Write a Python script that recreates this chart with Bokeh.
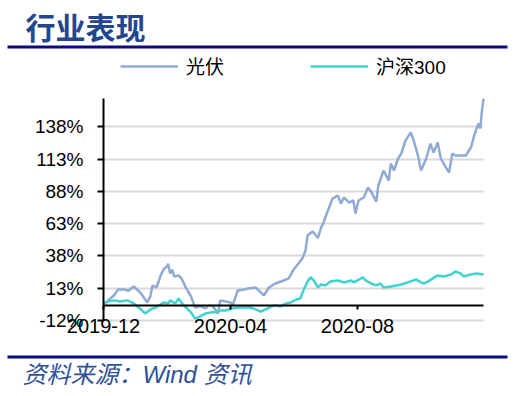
import pandas as pd
from bokeh.plotting import figure
from bokeh.models import (Range1d, FixedTicker, DatetimeTickFormatter, PrintfTickFormatter,
                          Legend, LegendItem, ColumnDataSource, Label, BoxAnnotation)
from bokeh.embed import file_html
from bokeh.resources import INLINE

title_text = "行业表现"
source_text = "资料来源：Wind 资讯"
series_names = ["光伏", "沪深300"]
base_date = "2019-12-01"

# day offsets from base_date and cumulative return (%)
pv_days = [0, 5, 10, 14, 20, 24, 29, 36, 42, 45, 47, 51, 55, 58, 61, 62, 64, 66, 68, 72,
           75, 79, 84, 88, 93, 98, 101, 105, 110, 112, 117, 122, 124, 129, 135, 139, 146, 149, 154, 159,
           165, 173, 178, 182, 187, 191, 194, 196, 201, 202, 206, 209, 211, 213, 220, 225, 228, 231, 236, 240, 242, 245,
           250, 254, 257, 262, 264, 269, 274, 276, 279, 283, 286, 290, 295, 298, 302, 305, 310, 314, 317, 321,
           324, 329, 332, 335, 338, 348, 351, 353, 356, 360, 362, 363, 365]
pv_values = [0.5, 4, 7.4, 12, 12, 11, 14.4, 9, 2, 6.7, 15, 13.6, 23, 28, 30, 32, 24.5, 27.5, 22, 23,
             20.6, 13.6, 6.7, -2, -1, -2.6, -0.3, -1, -6.5, 3.5, 2.8, 2, -0.3, 11.3, 12, 12.8, 13.6, 11.3, 7.4, 13.6,
             16.7, 19, 20.6, 26.8, 32, 36, 42, 54, 57, 56, 52, 60, 63, 67.8, 82.5, 84.8, 78.6, 83.3, 79.4, 81, 70.9, 81,
             83.3, 91, 88, 80, 92.6, 104.2, 96.4, 109.6, 104.2, 113.5, 117.3, 127.4, 133.6, 127.4, 115.8, 104.2, 113.5, 125, 118.1, 125.9,
             113.5, 106.5, 102.6, 117.3, 115.8, 115.8, 119.7, 122, 131, 140.6, 136.8, 147, 159.8]

hs_days = [0, 5, 10, 16, 23, 29, 36, 40, 45, 50, 55, 58, 62, 64, 69, 72, 77, 81, 84, 88,
           91, 98, 103, 108, 112, 117, 124, 132, 141, 146, 151, 156, 161, 165, 170, 175, 180, 185, 189, 192,
           196, 199, 202, 206, 209, 213, 218, 225, 231, 238, 240, 244, 249, 252, 257, 262, 266, 269, 276, 286,
           295, 300, 305, 308, 312, 316, 321, 327, 334, 338, 343, 346, 353, 358, 365]
hs_values = [1.2, 2.8, 3.6, 2.8, 3.6, 1.2, -3.4, -6.5, -3.4, -1.9, 0.5, 2, 1.2, 3.6, 1.2, 5.1, -0.3, -3.4, -5.7, -10.4,
             -9.6, -6.5, -5.7, -5.7, -4.2, -4.2, -2.6, -1.9, -1.9, -3.4, -5, -3.4, -1.1, -0.3, -1.1, 1.2, 2, 4.3, 5.1, 11.3,
             18.3, 21.4, 19, 13.6, 15.9, 15.2, 18.3, 19, 17.5, 19, 17.5, 19, 21.4, 19, 16.7, 15.2, 16.7, 13.6, 14.4, 15.9,
             18.3, 19.8, 17.5, 16.7, 18.3, 20.6, 22.9, 22.1, 23.7, 26, 24.5, 22.1, 23.7, 24.5, 23.7]

x_tick_labels = ["2019-12", "2020-04", "2020-08"]
y_ticks = [-12, 13, 38, 63, 88, 113, 138]
x_start, x_end = "2019-12-01", "2020-11-30"
y_start, y_end = -12, 160

base = pd.Timestamp(base_date)
pv_src = ColumnDataSource(dict(x=base + pd.to_timedelta(pv_days, unit="D"), y=pv_values))
hs_src = ColumnDataSource(dict(x=base + pd.to_timedelta(hs_days, unit="D"), y=hs_values))


def ms(s):
    return pd.Timestamp(s).value // 10**6


# ---- page layout (pixels)
W, H = 508, 396
PL, PR, PT, PB = 103, 483, 98, 320          # plotting area edges
LBL_FONT = "'Liberation Sans', 'Noto Sans CJK SC'"
RULE = "#0B0B82"

xs, xe = ms(x_start), ms(x_end)
kx = (xe - xs) / (PR - PL)
ky = (y_end - y_start) / (PB - PT)
x_range = Range1d(xs - PL * kx, xe + (W - PR) * kx)
y_range = Range1d(y_start - (H - PB) * ky, y_end + PT * ky)

p = figure(width=W, height=H, output_backend="svg", toolbar_location=None, title=None,
           x_axis_type="datetime", x_range=x_range, y_range=y_range,
           min_border=0, min_border_left=0, min_border_right=0, min_border_top=0, min_border_bottom=0)
p.outline_line_color = None

# grid lines only across the plotting area
p.xgrid.grid_line_color = None
p.ygrid.ticker = FixedTicker(ticks=y_ticks)
p.ygrid.cross_bounds = (xs, xe)
p.ygrid.grid_line_color = "#D9D9D9"
p.ygrid.grid_line_width = 2

r_pv = p.line("x", "y", source=pv_src, line_color="#8FAAD4", line_width=2.5)
r_hs = p.line("x", "y", source=hs_src, line_color="#3ED3D0", line_width=2.5)

# x axis sits on the 0% line
xa = p.xaxis[0]
xa.fixed_location = 0
xa.bounds = (xs, xe)
xa.ticker = FixedTicker(ticks=[ms(t + "-01") for t in x_tick_labels])
fmt = "%Y-%m"
xa.formatter = DatetimeTickFormatter(days=fmt, months=fmt, years=fmt)
xa.axis_line_color = "black"
xa.axis_line_width = 2
xa.major_tick_line_width = 2
xa.major_tick_in = 0
xa.major_tick_out = 4
xa.minor_tick_line_color = None
xa.major_label_standoff = 10
xa.major_label_text_font = LBL_FONT
xa.major_label_text_font_size = "20px"
xa.major_label_text_color = "black"

ya = p.yaxis[0]
ya.fixed_location = xs
ya.bounds = (y_start, y_end)
ya.ticker = FixedTicker(ticks=y_ticks)
ya.formatter = PrintfTickFormatter(format="%d%%")
ya.axis_line_color = "black"
ya.axis_line_width = 2
ya.major_tick_line_width = 2
ya.major_tick_in = 0
ya.major_tick_out = 6
ya.minor_tick_line_color = None
ya.major_label_standoff = 14
ya.major_label_text_font = LBL_FONT
ya.major_label_text_font_size = "19px"
ya.major_label_text_color = "black"

legend = Legend(items=[LegendItem(label=series_names[0], renderers=[r_pv]),
                       LegendItem(label=series_names[1], renderers=[r_hs])],
                orientation="horizontal", location=(120, H - 79),
                glyph_width=58, glyph_height=20, label_height=20, label_standoff=8, spacing=86,
                padding=0, margin=0, border_line_color=None, background_fill_alpha=0,
                label_text_font=LBL_FONT, label_text_font_size="19px", label_text_color="black")
p.add_layout(legend, "center")

# header: title + rule
p.add_layout(Label(x=25, y=H - 25, x_units="screen", y_units="screen", text=title_text,
                   text_font="'Noto Sans CJK SC'", text_font_style="bold", text_font_size="30px",
                   text_color="#23478F", text_align="left", text_baseline="middle"))
p.add_layout(BoxAnnotation(left=7, right=507, top=H - 45, bottom=H - 48,
                           left_units="screen", right_units="screen",
                           top_units="screen", bottom_units="screen",
                           fill_color=RULE, fill_alpha=1, line_color=None))
# footer: rule + source
p.add_layout(BoxAnnotation(left=7, right=507, top=H - 355, bottom=H - 358,
                           left_units="screen", right_units="screen",
                           top_units="screen", bottom_units="screen",
                           fill_color=RULE, fill_alpha=1, line_color=None))
p.add_layout(Label(x=22, y=H - 374, x_units="screen", y_units="screen", text=source_text,
                   text_font=LBL_FONT, text_font_style="italic", text_font_size="24px",
                   text_color="#2F509A", text_align="left", text_baseline="middle"))

open("out.html", "w").write(file_html(p, INLINE))
